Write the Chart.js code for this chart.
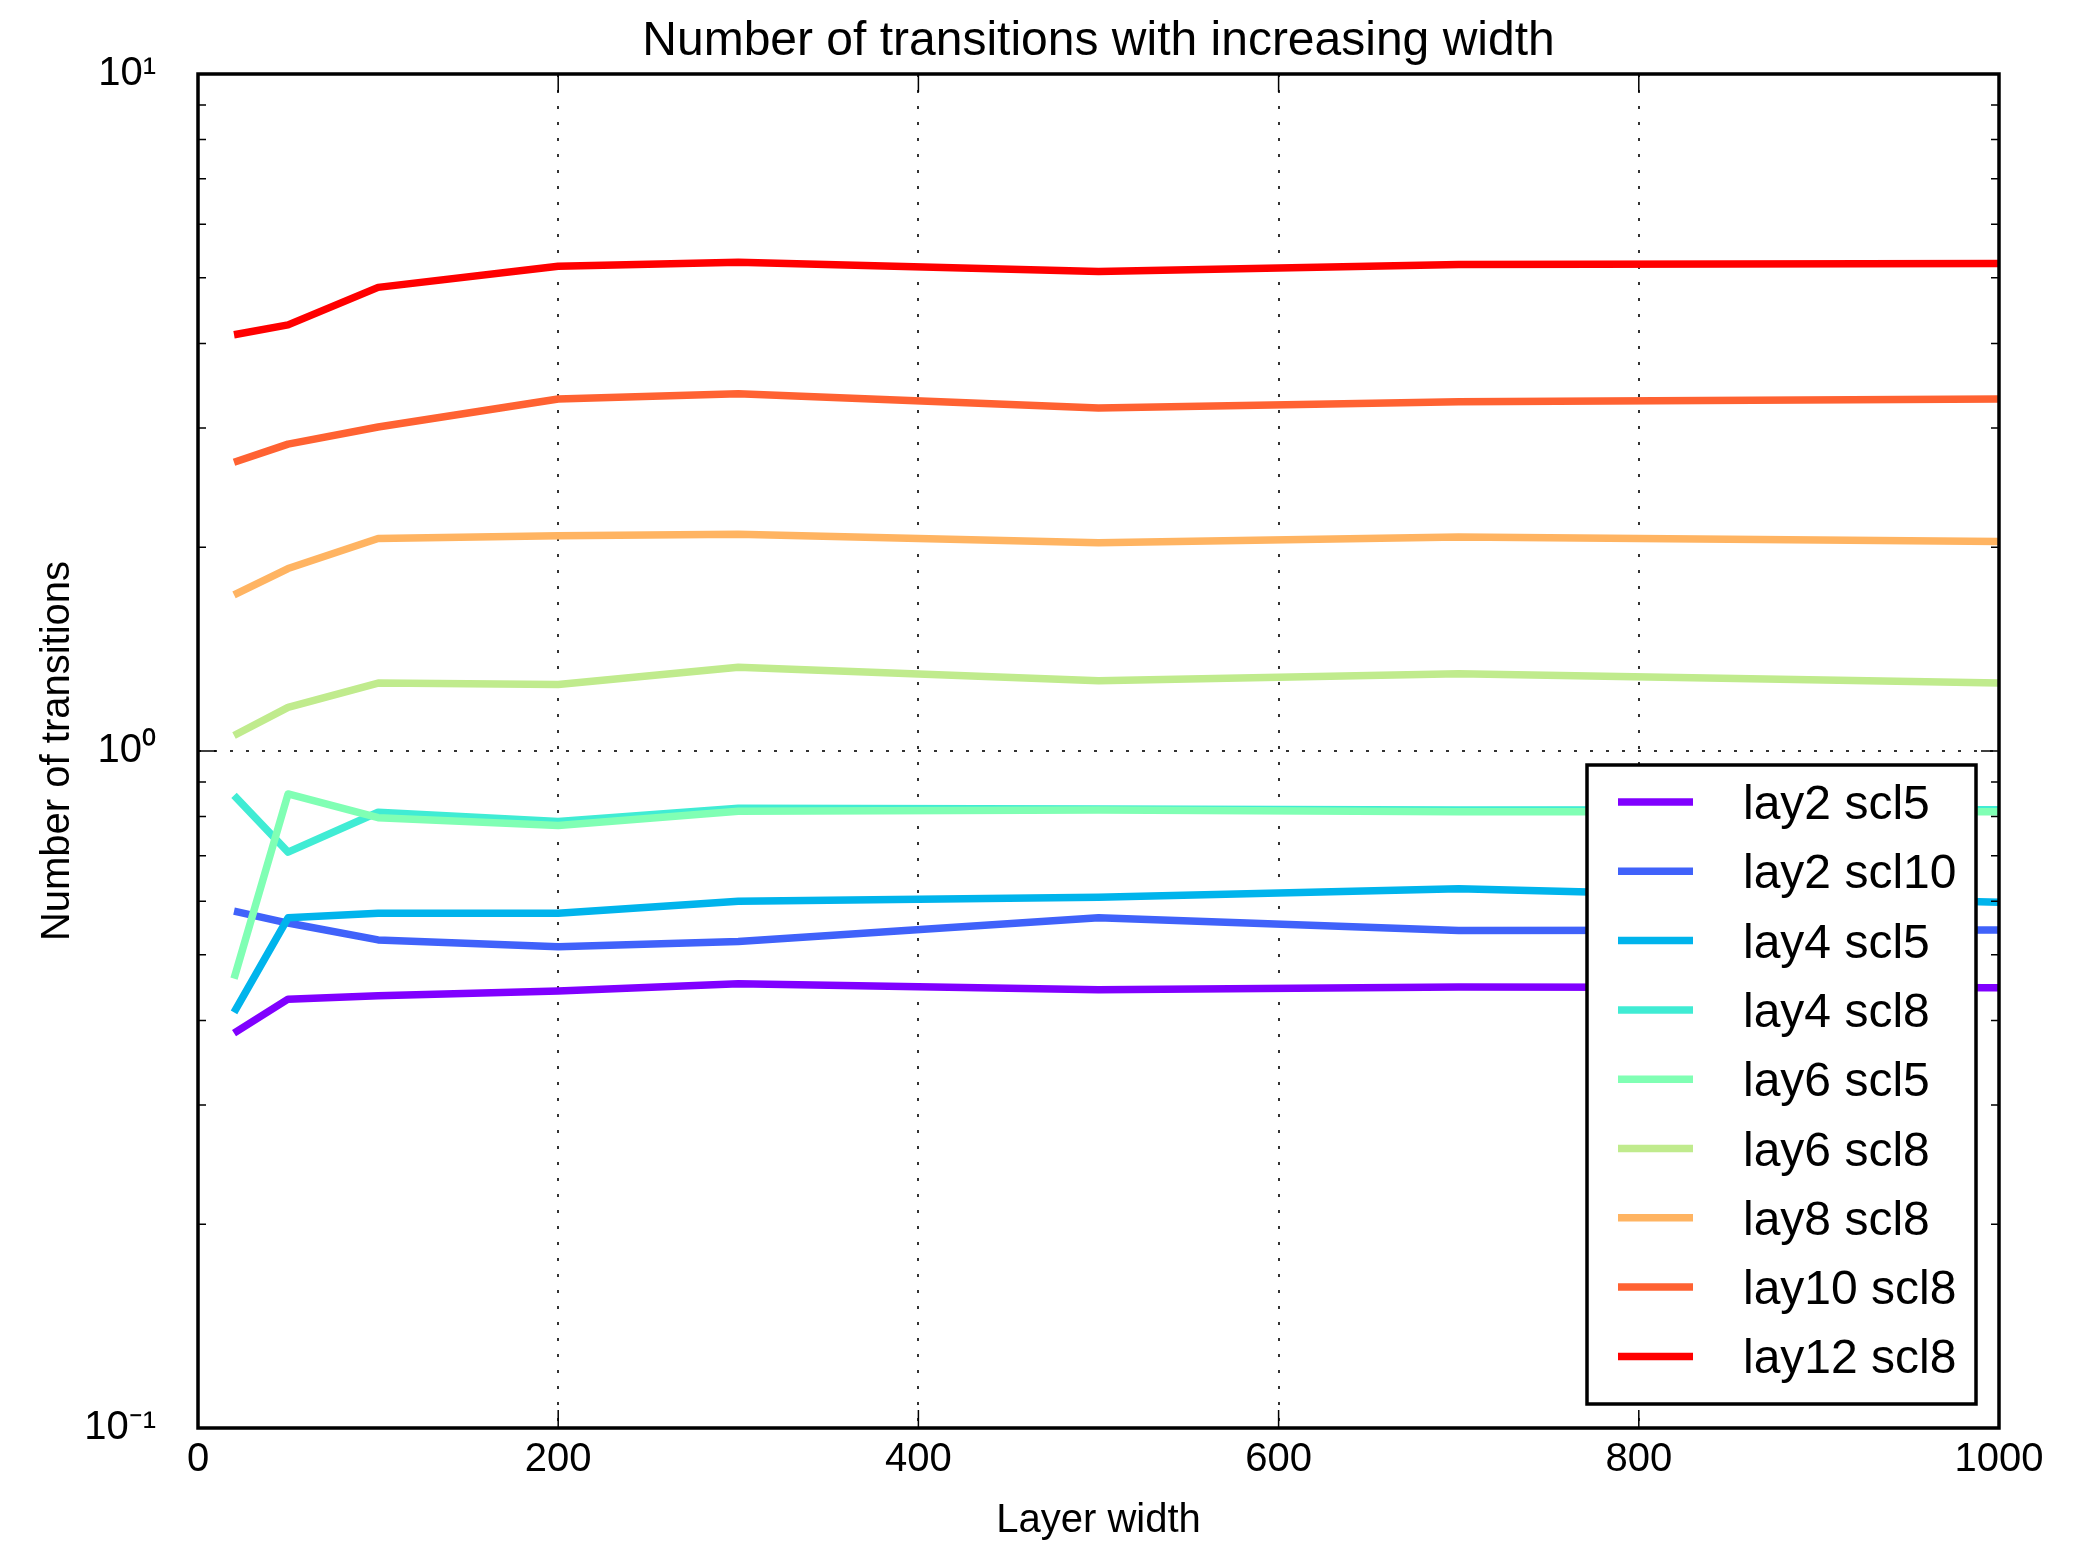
<!DOCTYPE html>
<html>
<head>
<meta charset="utf-8">
<title>Number of transitions with increasing width</title>
<script src="https://cdn.jsdelivr.net/npm/chart.js@4.4.1/dist/chart.umd.min.js"></script>
<style>
  html, body { margin: 0; padding: 0; background: #fff; }
  #wrap { width: 2073px; height: 1541px; position: relative; }
</style>
</head>
<body>
<div id="wrap"><canvas id="myChart"></canvas></div>
<script>
// layer widths (x axis)
const widths = [20, 50, 100, 200, 300, 500, 700, 1000];

const seriesNames = ["lay2 scl5", "lay2 scl10", "lay4 scl5", "lay4 scl8", "lay6 scl5",
  "lay6 scl8", "lay8 scl8", "lay10 scl8", "lay12 scl8"];

// number of transitions
const lay2scl5 = [0.383, 0.430, 0.435, 0.442, 0.453, 0.444, 0.448, 0.447];
const lay2scl10 = [0.580, 0.557, 0.526, 0.514, 0.523, 0.567, 0.543, 0.544];
const lay4scl5 = [0.411, 0.567, 0.576, 0.576, 0.600, 0.608, 0.626, 0.598];
const lay4scl8 = [0.860, 0.709, 0.812, 0.787, 0.823, 0.821, 0.818, 0.819];
const lay6scl5 = [0.461, 0.864, 0.797, 0.776, 0.815, 0.818, 0.813, 0.813];
const lay6scl8 = [1.054, 1.16, 1.26, 1.254, 1.33, 1.27, 1.30, 1.26];
const lay8scl8 = [1.70, 1.86, 2.06, 2.08, 2.09, 2.03, 2.07, 2.04];
const lay10scl8 = [2.67, 2.84, 3.01, 3.31, 3.37, 3.21, 3.28, 3.31];
const lay12scl8 = [4.12, 4.26, 4.84, 5.20, 5.27, 5.11, 5.23, 5.25];

const allSeries = [lay2scl5, lay2scl10, lay4scl5, lay4scl8, lay6scl5, lay6scl8, lay8scl8, lay10scl8, lay12scl8];

// rainbow colormap, 9 steps
const seriesColors = ["#8000ff", "#4062fa", "#00b4ec", "#40ecd4", "#80ffb4",
  "#c0eb8d", "#ffb462", "#ff6232", "#ff0000"];

const xTicks = [0, 200, 400, 600, 800, 1000];
const yTicks = [0.1, 1, 10];
const yTickLabels = ["10⁻¹", "10⁰", "10¹"];

const FONT = "'Liberation Sans', Arial, Helvetica, sans-serif";
Chart.defaults.font.family = FONT;
Chart.defaults.color = "#000";

// center the title over the plot area instead of the whole canvas
const titleOverPlot = {
  id: "titleOverPlot",
  afterLayout(chart) {
    if (chart.titleBlock) {
      chart.titleBlock.left = chart.chartArea.left;
      chart.titleBlock.right = chart.chartArea.right;
    }
  },
};

// box frame + inward ticks like matplotlib
const frameTicks = {
  id: "frameTicks",
  afterDatasetsDraw(chart) {
    const { ctx, chartArea: a, scales: { x, y } } = chart;
    ctx.save();
    ctx.strokeStyle = "#000";
    ctx.lineWidth = 1.5;
    ctx.beginPath();
    xTicks.forEach((v) => {
      const px = x.getPixelForValue(v);
      ctx.moveTo(px, a.bottom); ctx.lineTo(px, a.bottom - 18);
      ctx.moveTo(px, a.top); ctx.lineTo(px, a.top + 18);
    });
    const yVals = [];
    for (let e = -1; e < 1; e++) {
      for (let m = 1; m < 10; m++) yVals.push([m * Math.pow(10, e), m === 1]);
    }
    yVals.push([10, true]);
    yVals.forEach(([v, major]) => {
      const py = y.getPixelForValue(v);
      const len = major ? 18 : 8;
      ctx.moveTo(a.left, py); ctx.lineTo(a.left + len, py);
      ctx.moveTo(a.right, py); ctx.lineTo(a.right - len, py);
    });
    ctx.stroke();
    ctx.lineWidth = 3.5;
    ctx.strokeRect(a.left, a.top, a.right - a.left, a.bottom - a.top);
    ctx.restore();
  },
};

// legend box in the lower right corner of the plot
const boxLegend = {
  id: "boxLegend",
  afterDraw(chart) {
    const { ctx, chartArea: a } = chart;
    const w = 389, h = 639, rowH = 69.3;
    const left = a.right - 23 - w;
    const top = a.bottom - 24 - h;
    ctx.save();
    ctx.fillStyle = "#fff";
    ctx.fillRect(left, top, w, h);
    ctx.lineWidth = 3.5;
    ctx.strokeStyle = "#000";
    ctx.strokeRect(left, top, w, h);
    ctx.font = "48px " + FONT;
    ctx.textBaseline = "alphabetic";
    ctx.textAlign = "left";
    chart.data.datasets.forEach((ds, i) => {
      const cy = top + 37 + i * rowH;
      ctx.strokeStyle = ds.borderColor;
      ctx.lineWidth = 7.5;
      ctx.beginPath();
      ctx.moveTo(left + 31, cy);
      ctx.lineTo(left + 106, cy);
      ctx.stroke();
      ctx.fillStyle = "#000";
      ctx.fillText(ds.label, left + 156, cy + 17);
    });
    ctx.restore();
  },
};

const datasets = allSeries.map((vals, i) => ({
  label: seriesNames[i],
  data: vals.map((v, j) => ({ x: widths[j], y: v })),
  borderColor: seriesColors[i],
  backgroundColor: seriesColors[i],
  borderWidth: 7.5,
  pointRadius: 0,
  tension: 0,
  fill: false,
  borderJoinStyle: "round",
  order: allSeries.length - i, // later series on top
}));

new Chart(document.getElementById("myChart").getContext("2d"), {
  type: "line",
  data: { datasets },
  plugins: [titleOverPlot, frameTicks, boxLegend],
  options: {
    responsive: true,
    maintainAspectRatio: false,
    animation: false,
    events: [],
    layout: { padding: { left: 0, right: 74, top: 0, bottom: 0 } },
    plugins: {
      legend: { display: false },
      tooltip: { enabled: false },
      title: {
        display: true,
        text: "Number of transitions with increasing width",
        font: { size: 48, weight: "normal" },
        color: "#000",
        padding: { top: 13, bottom: 3.4 },
      },
    },
    scales: {
      x: {
        type: "linear",
        min: 0,
        max: 1000,
        afterBuildTicks: (s) => { s.ticks = xTicks.map((v) => ({ value: v })); },
        afterFit: (s) => { s.height = 113; },
        ticks: {
          font: { size: 40 },
          padding: 8,
          color: "#000",
          maxRotation: 0,
          callback: (v) => String(v),
        },
        grid: {
          drawTicks: false,
          lineWidth: 2,
          color: (c) => (c.tick && c.tick.value > 0 && c.tick.value < 1000 ? "#333" : "rgba(0,0,0,0)"),
        },
        border: { display: false, dash: [3, 13] },
        title: {
          display: true,
          text: "Layer width",
          font: { size: 40, lineHeight: 1.0 },
          color: "#000",
          padding: { top: 8, bottom: 0 },
        },
      },
      y: {
        type: "logarithmic",
        min: 0.1,
        max: 10,
        afterBuildTicks: (s) => { s.ticks = yTicks.map((v) => ({ value: v })); },
        afterFit: (s) => { s.width = 198; },
        ticks: {
          font: { size: 40 },
          padding: 42,
          color: "#000",
          autoSkip: false,
          callback: (v, i) => yTickLabels[i],
        },
        grid: {
          drawTicks: false,
          lineWidth: 2,
          color: (c) => (c.tick && c.tick.value === 1 ? "#333" : "rgba(0,0,0,0)"),
        },
        border: { display: false, dash: [3, 13] },
        title: {
          display: true,
          text: "Number of transitions",
          font: { size: 40 },
          color: "#000",
          padding: { top: 34, bottom: 0 },
        },
      },
    },
  },
});
</script>
</body>
</html>
